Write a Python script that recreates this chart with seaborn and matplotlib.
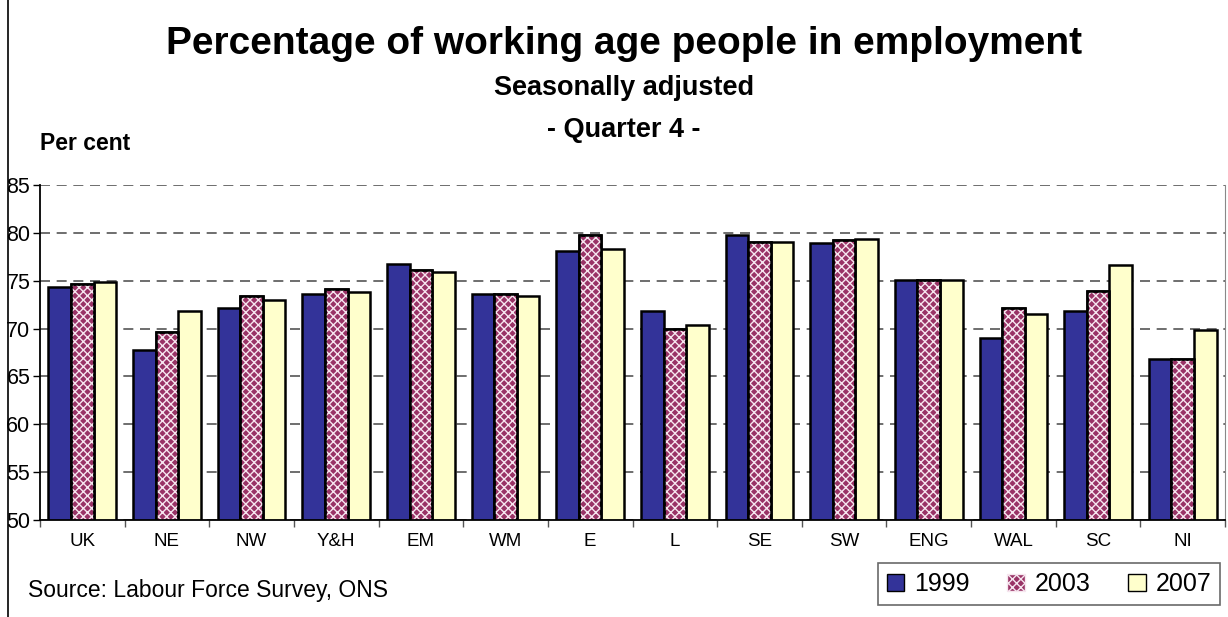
import matplotlib
matplotlib.use("Agg")
import matplotlib.pyplot as plt
import seaborn as sns
import numpy as np
import pandas as pd
from matplotlib.patches import Rectangle, Patch
from matplotlib.lines import Line2D

regions = ['UK', 'NE', 'NW', 'Y&H', 'EM', 'WM', 'E', 'L', 'SE', 'SW', 'ENG', 'WAL', 'SC', 'NI']
years = ['1999', '2003', '2007']
v1999 = [74.3, 67.8, 72.2, 73.6, 76.7, 73.6, 78.1, 71.8, 79.8, 78.9, 75.1, 69.0, 71.8, 66.8]
v2003 = [74.7, 69.6, 73.4, 74.1, 76.1, 73.6, 79.8, 70.0, 79.0, 79.3, 75.1, 72.2, 73.9, 66.8]
v2007 = [74.9, 71.8, 73.0, 73.8, 75.9, 73.4, 78.3, 70.4, 79.0, 79.4, 75.1, 71.5, 76.6, 69.8]

colors = ['#333399', '#993366', '#ffffcc']

df = pd.DataFrame({'region': regions * 3,
                   'year': [y for y in years for _ in regions],
                   'value': v1999 + v2003 + v2007})

sns.set_style("white")
plt.rcParams['font.family'] = ['Liberation Sans', 'DejaVu Sans']
plt.rcParams['hatch.linewidth'] = 1.0
plt.rcParams['text.color'] = 'black'
plt.rcParams['xtick.color'] = 'black'
plt.rcParams['ytick.color'] = 'black'

fig = plt.figure(figsize=(12.28, 6.17), dpi=100)
ax = fig.add_axes([40 / 1228, 1 - 520 / 617, 1185 / 1228, 335 / 617])

sns.barplot(data=df, x='region', y='value', hue='year', palette=colors, saturation=1,
            edgecolor='black', linewidth=1.8, ax=ax, legend=False)

# white criss-cross pattern on the 2003 bars
for p in ax.containers[1]:
    ax.add_patch(Rectangle(p.get_xy(), p.get_width(), p.get_height(),
                           facecolor='none', edgecolor='#f6e6ef', hatch='xxxx',
                           linewidth=0, zorder=p.get_zorder() + 0.1))
    ax.add_patch(Rectangle(p.get_xy(), p.get_width(), p.get_height(),
                           facecolor='none', edgecolor='black',
                           linewidth=1.8, zorder=p.get_zorder() + 0.2))

ax.set_ylim(50, 85)
ax.set_xlim(-0.5, len(regions) - 0.5)
ax.set_yticks(range(50, 90, 5))
ax.set_xticks(np.arange(-0.5, len(regions), 1), minor=True)
ax.yaxis.grid(True, linestyle=(0, (6, 4)), color='#555555', linewidth=1.2)
ax.set_axisbelow(True)
ax.set_xlabel('')
ax.set_ylabel('')
ax.tick_params(axis='y', labelsize=15.5, length=5, width=1, pad=2, direction='out', left=True)
ax.tick_params(axis='x', which='major', labelsize=13.5, length=0, pad=9)
ax.tick_params(axis='x', which='minor', length=5, width=1, color='#555555', bottom=True)
for s in ['left', 'bottom']:
    ax.spines[s].set_color('black')
    ax.spines[s].set_linewidth(1.3)
ax.spines['top'].set_visible(False)
ax.spines['right'].set_color('#888888')

fig.text(0.508, 1 - 44 / 617, 'Percentage of working age people in employment',
         ha='center', va='center', fontsize=28, fontweight='bold')
fig.text(0.508, 1 - 88 / 617, 'Seasonally adjusted', ha='center', va='center',
         fontsize=19.5, fontweight='bold')
fig.text(0.508, 1 - 130 / 617, '- Quarter 4 -', ha='center', va='center',
         fontsize=19.5, fontweight='bold')
fig.text(40 / 1228, 1 - 144 / 617, 'Per cent', ha='left', va='center',
         fontsize=16.5, fontweight='bold')
fig.text(28 / 1228, 1 - 591 / 617, 'Source: Labour Force Survey, ONS', ha='left',
         va='center', fontsize=16.5)

handles = [Patch(facecolor=colors[0], edgecolor='black'),
           Patch(facecolor=colors[1], edgecolor='#f6e6ef', hatch='xxxx'),
           Patch(facecolor=colors[2], edgecolor='black')]
leg = fig.legend(handles, years, loc='center', bbox_to_anchor=(1049 / 1228, 1 - 584 / 617),
                 ncol=3, frameon=True, fancybox=False, fontsize=18, handlelength=0.7,
                 handleheight=0.7, columnspacing=1.5, handletextpad=0.4, borderpad=0.35)
leg.get_frame().set_edgecolor('#444444')
leg.get_frame().set_linewidth(1.2)

fig.add_artist(Line2D([8 / 1228, 8 / 1228], [0, 1], color='black', linewidth=1.2))

fig.savefig('out.png', dpi=100)
